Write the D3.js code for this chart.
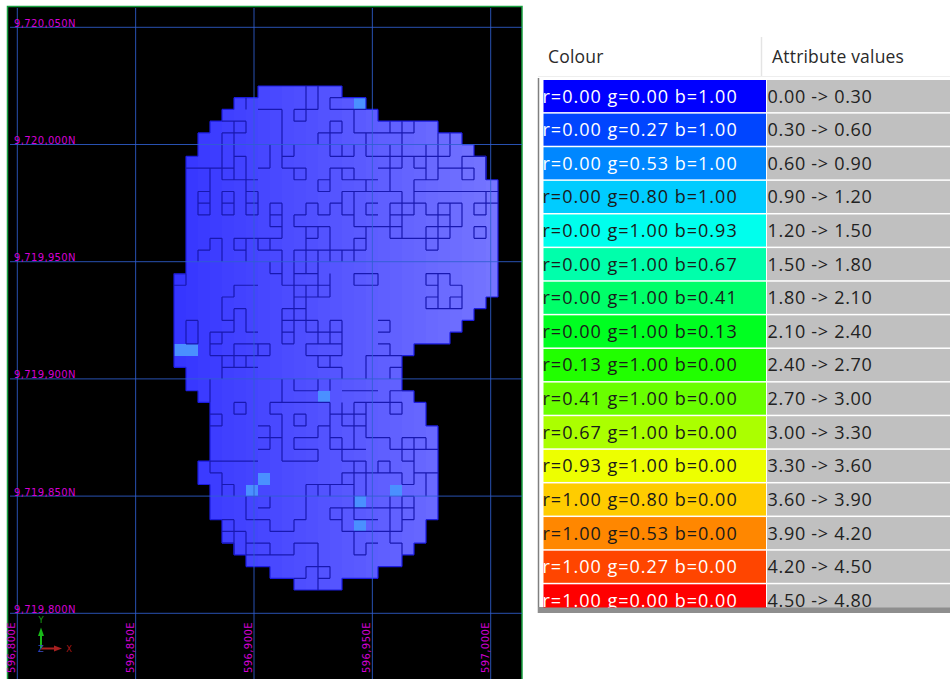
<!DOCTYPE html>
<html>
<head>
<meta charset="utf-8">
<title>Block model plan view with colour legend</title>
<script src="https://d3js.org/d3.v7.min.js"></script>
<style>
  html, body { margin: 0; padding: 0; background: #fff; overflow: hidden; }
</style>
</head>
<body>
<svg id="chart" width="950" height="679"></svg>
<script>
// grid line positions of the plan view
const eastTicks = [596800, 596850, 596900, 596950, 597000];
const northTicks = [9720050, 9720000, 9719950, 9719900, 9719850, 9719800];

// block extent per row: first column and column after the last one (rows from the north)
const rowStart = [7, 5, 4, 3, 2, 2, 1, 1, 1, 1, 1, 1, 1, 1, 1, 1, 0, 0, 0, 0, 0, 0, 0, 0, 1, 1, 2, 3, 3, 3, 3, 3, 2, 2, 3, 3, 3, 4, 4, 5, 6, 8, 10];
const rowEnd = [14, 16, 17, 22, 24, 25, 26, 26, 27, 27, 27, 27, 27, 27, 27, 27, 27, 27, 26, 25, 24, 23, 20, 19, 19, 19, 20, 21, 21, 22, 22, 22, 22, 22, 22, 22, 22, 21, 21, 20, 19, 17, 14];

// the few blocks in the 0.30 -> 0.60 class, [col, row]; every other block is 0.00 -> 0.30
const classTwoCells = [[15, 1], [0, 22], [1, 22], [12, 26], [7, 33], [6, 34], [15, 35], [15, 37], [18, 34]];

// internal block edges, [row, fromCol, toCol]
const edgeH = [
  [2,7,9],[6,9,10],[2,10,11],[3,10,11],[2,11,12],[1,13,14],[2,13,16],[3,4,6],[4,4,6],[6,5,6],[8,4,7],[7,1,5],
  [9,2,3],[10,2,3],[11,2,3],[9,4,5],[10,4,5],[11,4,5],[9,6,7],[10,6,7],[11,6,7],[7,7,8],[7,9,11],[8,10,11],
  [8,12,13],[9,12,13],[7,13,14],[3,13,14],[4,12,14],[6,13,14],[10,8,9],[11,8,9],[12,8,9],[13,8,9],
  [10,11,12],[11,10,11],[11,12,13],[10,13,14],[12,10,13],[13,11,12],[13,3,4],[14,2,3],[13,5,6],[14,5,6],[13,6,8],[14,7,9],[14,10,13],
  [4,15,20],[7,17,19],[6,16,23],[7,20,21],[8,20,22],[7,22,24],[6,24,26],[8,24,25],[7,24,25],[9,20,27],[10,25,27],[11,25,26],
  [10,18,21],[11,18,20],[12,18,19],[13,18,23],[11,21,23],[10,22,24],[12,21,24],[14,21,22],[12,25,26],[13,25,26],
  [6,14,15],[7,14,15],[8,14,17],[9,14,19],[10,13,14],[11,14,15],[10,16,17],[11,16,17],[12,15,18],[13,15,16],[14,13,16],
  [16,0,1],[17,0,1],[20,1,2],[22,1,2],[21,3,5],[22,3,4],[20,4,5],[18,4,5],[17,5,7],[19,5,6],[21,6,7],[23,3,8],[24,4,7],[22,5,8],
  [16,8,9],[17,9,13],[16,10,12],[18,10,13],[19,10,11],[19,9,10],[20,9,12],[21,9,10],[22,9,10],[21,11,12],[20,13,14],[21,12,14],[22,11,14],[23,11,14],[24,12,14],
  [26,10,12],[27,5,6],[28,5,6],[28,3,4],[29,3,4],[27,8,13],[28,8,9],[28,10,11],[29,10,11],[29,7,8],[29,12,13],
  [16,15,17],[17,15,17],[16,21,23],[17,21,22],[17,23,24],[18,21,22],[18,23,24],[19,21,24],[22,13,14],[20,17,18],[21,17,18],[22,17,18],[23,16,19],[24,18,19],
  [26,14,17],[26,18,20],[27,15,19],[28,18,19],[28,13,16],[29,14,16],
  [30,7,8],[31,7,8],[30,8,9],[32,9,12],[31,10,12],[30,10,12],[30,13,14],[31,13,14],[31,14,16],[32,14,15],[32,3,7],[33,3,4],[34,4,5],
  [33,14,19],[34,11,15],[37,10,11],[38,8,10],[37,6,8],[36,7,8],[36,13,15],[37,13,14],[38,14,15],[37,4,5],[38,4,6],[39,4,5],[39,6,8],[40,6,10],[39,10,12],[41,11,13],[42,10,11],[42,12,13],
  [30,16,18],[31,18,22],[30,19,21],[32,19,20],[33,20,22],[34,19,20],[32,17,18],[32,15,16],[36,14,20],[37,15,17],[37,19,20],[35,19,20],[38,14,19],[40,15,16],[39,16,17],[39,18,19]
];

// internal block edges, [col, fromRow, toRow]
const edgeV = [
  [6,1,2],[9,2,6],[10,5,6],[10,2,3],[11,2,3],[11,0,2],[12,0,2],[13,1,2],[6,3,4],[5,3,6],[4,4,8],[5,6,8],[6,6,9],[3,7,9],[4,7,8],
  [2,9,11],[3,9,11],[4,9,11],[5,9,11],[6,9,11],[7,9,11],[8,5,7],[9,6,7],[10,7,8],[11,7,8],[12,8,9],[13,8,9],[13,7,8],[12,4,5],[13,3,6],
  [8,10,12],[9,10,13],[8,13,14],[11,10,11],[10,11,12],[12,10,11],[13,10,11],[11,12,14],[12,12,13],[13,12,15],[3,13,14],[4,13,15],[2,14,15],[5,13,14],[6,13,15],[7,13,14],[9,14,15],[10,14,15],[11,14,15],[12,14,15],
  [14,3,4],[15,2,4],[18,3,4],[19,3,7],[20,3,4],[16,4,6],[18,5,9],[21,5,6],[22,4,7],[23,4,6],[20,6,7],[21,6,8],[22,7,8],[24,6,8],[25,7,8],[26,6,8],[20,8,9],[26,9,10],[25,10,11],[26,10,11],
  [18,10,13],[19,9,13],[20,9,11],[21,10,11],[22,10,14],[23,10,13],[24,10,12],[21,12,14],[25,12,13],[26,12,13],
  [14,5,6],[15,5,6],[14,7,8],[15,7,8],[16,8,9],[15,9,12],[14,9,11],[16,10,11],[16,12,14],[15,13,15],[14,14,15],
  [1,16,17],[1,20,22],[2,20,22],[3,21,23],[4,21,22],[5,20,21],[4,18,20],[5,17,18],[5,19,20],[6,19,21],[4,23,25],[5,23,24],[6,23,24],[5,22,23],[8,22,23],[7,22,23],
  [8,15,16],[9,15,17],[10,15,20],[11,15,16],[12,15,16],[12,16,17],[13,16,18],[11,17,19],[12,17,18],[9,19,22],[10,20,22],[11,19,21],[12,20,22],[13,20,21],[13,21,22],[11,22,23],[12,23,24],[13,23,24],
  [9,25,27],[10,25,26],[12,25,26],[13,25,26],[3,25,27],[5,27,28],[6,27,28],[4,28,29],[8,27,28],[9,28,30],[10,28,29],[11,28,29],[8,29,31],[12,29,30],[13,27,30],
  [15,16,17],[17,16,17],[21,16,17],[22,16,19],[23,16,17],[24,17,19],[21,18,19],[23,18,19],[14,20,23],[18,20,21],[18,22,23],[16,23,25],[18,24,25],[14,24,25],[18,26,28],[19,27,28],[14,27,29],[15,27,31],[16,27,30],
  [9,29,32],[12,31,32],[10,30,31],[12,29,30],[13,30,31],[14,30,32],[3,32,33],[4,33,35],[5,34,35],[14,33,34],[11,34,37],[10,37,38],[8,37,38],[6,35,37],[8,35,36],[12,34,35],[13,34,35],
  [13,36,37],[14,36,38],[15,36,37],[5,37,40],[6,38,40],[8,39,40],[10,39,40],[12,39,43],[11,41,42],[13,41,42],
  [18,30,31],[19,30,32],[20,30,33],[21,30,31],[20,33,34],[19,33,34],[18,32,33],[17,32,33],[16,32,35],[15,32,34],[21,33,35],[15,34,37],[19,35,37],[20,35,37],[18,35,38],[14,37,38],[19,36,38],[15,38,40],[16,39,40],[18,38,39],[19,39,40]
];

// legend table
const legendR = [0, 0, 0, 0, 0, 0, 0, 0, 0.13, 0.41, 0.67, 0.93, 1, 1, 1, 1];
const legendG = [0, 0.27, 0.53, 0.8, 1, 1, 1, 1, 1, 1, 1, 1, 0.8, 0.53, 0.27, 0];
const legendB = [1, 1, 1, 1, 0.93, 0.67, 0.41, 0.13, 0, 0, 0, 0, 0, 0, 0, 0];
const legendBreaks = [0, 0.3, 0.6, 0.9, 1.2, 1.5, 1.8, 2.1, 2.4, 2.7, 3.0, 3.3, 3.6, 3.9, 4.2, 4.5, 4.8];
const headers = ["Colour", "Attribute values"];

const svg = d3.select("#chart");

// ---- plan view ----
const x = d3.scaleLinear().domain([596800, 597000]).range([17.3, 490.7]);
const y = d3.scaleLinear().domain([9720050, 9719800]).range([27.3, 613.3]);
const colX = d3.scaleLinear().domain([0, 27]).range([174, 498]);
const rowY = d3.scaleLinear().domain([0, 43]).range([86, 590]);
// the viewer's light makes the same class paler towards the east
const shade = d3.scaleLinear().domain([0, 27]).range(["#3636ff", "#7777ff"]);

const view = svg.append("g");
view.append("rect")
    .attr("x", 7.5).attr("y", 6.5).attr("width", 514.5).attr("height", 680)
    .attr("fill", "black").attr("stroke", "#18a040").attr("stroke-width", 1.5);

// blocks
const cells = [];
rowStart.forEach((s, r) => {
  for (let c = s; c < rowEnd[r]; c++) cells.push({c: c, r: r});
});
const isClassTwo = d => classTwoCells.some(k => k[0] === d.c && k[1] === d.r);

view.append("g").selectAll("rect")
    .data(cells)
    .join("rect")
    .attr("x", d => colX(d.c))
    .attr("y", d => rowY(d.r))
    .attr("width", d => colX(d.c + 1) - colX(d.c))
    .attr("height", d => rowY(d.r + 1) - rowY(d.r))
    .attr("fill", d => isClassTwo(d) ? "#4a90ff" : shade(d.c))
    .attr("shape-rendering", "crispEdges");

// outline of the model, worked out from the row extents
const inside = (c, r) => r >= 0 && r < rowStart.length && c >= rowStart[r] && c < rowEnd[r];
const outline = d3.path();
cells.forEach(d => {
  if (!inside(d.c, d.r - 1)) { outline.moveTo(colX(d.c), rowY(d.r)); outline.lineTo(colX(d.c + 1), rowY(d.r)); }
  if (!inside(d.c, d.r + 1)) { outline.moveTo(colX(d.c), rowY(d.r + 1)); outline.lineTo(colX(d.c + 1), rowY(d.r + 1)); }
  if (!inside(d.c - 1, d.r)) { outline.moveTo(colX(d.c), rowY(d.r)); outline.lineTo(colX(d.c), rowY(d.r + 1)); }
  if (!inside(d.c + 1, d.r)) { outline.moveTo(colX(d.c + 1), rowY(d.r)); outline.lineTo(colX(d.c + 1), rowY(d.r + 1)); }
});
view.append("path").attr("d", outline.toString())
    .attr("fill", "none").attr("stroke", "#1c1ce0").attr("stroke-width", 1.2);

// internal edges
const inner = d3.path();
edgeH.forEach(e => { inner.moveTo(colX(e[1]), rowY(e[0])); inner.lineTo(colX(e[2]), rowY(e[0])); });
edgeV.forEach(e => { inner.moveTo(colX(e[0]), rowY(e[1])); inner.lineTo(colX(e[0]), rowY(e[2])); });
view.append("path").attr("d", inner.toString())
    .attr("fill", "none").attr("stroke", "#1818b0").attr("stroke-width", 1.2);

// grid
view.append("g").selectAll("line")
    .data(eastTicks)
    .join("line")
    .attr("x1", d => x(d)).attr("x2", d => x(d))
    .attr("y1", 8).attr("y2", 679)
    .attr("stroke", "#2f5fd0").attr("stroke-opacity", 0.85);
view.append("g").selectAll("line")
    .data(northTicks)
    .join("line")
    .attr("x1", 10).attr("x2", 522)
    .attr("y1", d => y(d)).attr("y2", d => y(d))
    .attr("stroke", "#2f5fd0").attr("stroke-opacity", 0.85);

const labelFont = "DejaVu Sans";
view.append("g").selectAll("text")
    .data(northTicks)
    .join("text")
    .attr("x", 14)
    .attr("y", d => y(d) - 0.5)
    .attr("font-family", labelFont).attr("font-size", 10).attr("letter-spacing", 0.35)
    .attr("fill", "#d400d4")
    .text(d => d3.format(",")(d) + "N");
view.append("g").selectAll("text")
    .data(eastTicks)
    .join("text")
    .attr("transform", d => `translate(${x(d) - 2},673) rotate(-90)`)
    .attr("font-family", labelFont).attr("font-size", 10).attr("letter-spacing", 0.4)
    .attr("fill", "#d400d4")
    .text(d => d3.format(",")(d) + "E");

// axis triad
const triad = view.append("g");
const arrow = (x2, y2, head, col) => {
  triad.append("line").attr("x1", 41).attr("y1", 648.5).attr("x2", x2).attr("y2", y2)
      .attr("stroke", col).attr("stroke-width", 2);
  triad.append("path").attr("d", head).attr("fill", col);
};
arrow(41, 632, "M41,627.5L38,636L44,636Z", "#18b818");
arrow(57, 648.5, "M62,648.5L54,645.5L54,651.5Z", "#a82020");
triad.append("text").attr("x", 41).attr("y", 623).attr("text-anchor", "middle")
    .attr("font-family", labelFont).attr("font-size", 8.5).attr("fill", "#18a018").text("Y");
triad.append("text").attr("x", 69).attr("y", 651.5).attr("text-anchor", "middle")
    .attr("font-family", labelFont).attr("font-size", 8.5).attr("fill", "#a81818").text("X");
triad.append("text").attr("x", 41).attr("y", 651.5).attr("text-anchor", "middle")
    .attr("font-family", labelFont).attr("font-size", 8.5).attr("fill", "#3a4ac0").text("Z");

// ---- legend table ----
const tableFont = "Open Sans";
const table = svg.append("g");
const rowBand = d3.scaleLinear().domain([0, 15]).range([80, 584.3]);
const rowH = rowBand(1) - rowBand(0);

svg.append("defs").append("clipPath").attr("id", "tableClip")
  .append("rect").attr("x", 543).attr("y", 78).attr("width", 407).attr("height", 529.5);

// header
table.selectAll(".head")
    .data(headers)
    .join("text")
    .attr("class", "head")
    .attr("x", (d, i) => i === 0 ? 548 : 772)
    .attr("y", 63)
    .attr("font-family", tableFont).attr("font-size", 17.5).attr("letter-spacing", 0.2).attr("fill", "#2a2a2a")
    .text(d => d);
table.append("line").attr("x1", 761.5).attr("x2", 761.5).attr("y1", 37).attr("y2", 76)
    .attr("stroke", "#e4e4e4").attr("stroke-width", 1.5);
table.append("line").attr("x1", 538).attr("x2", 950).attr("y1", 76.5).attr("y2", 76.5)
    .attr("stroke", "#eeeeee");
table.append("line").attr("x1", 538.5).attr("x2", 538.5).attr("y1", 78).attr("y2", 613)
    .attr("stroke", "#808080").attr("stroke-width", 1.5);
table.append("rect").attr("x", 538).attr("y", 607).attr("width", 412).attr("height", 6).attr("fill", "#8e8e8e");

const rowsG = table.append("g").attr("clip-path", "url(#tableClip)");
const rowsData = legendR.map((r, i) => ({
  r: r, g: legendG[i], b: legendB[i], lo: legendBreaks[i], hi: legendBreaks[i + 1], i: i
}));
const f2 = d3.format(".2f");
const rowColor = d => d3.rgb(d.r * 255, d.g * 255, d.b * 255).formatHex();
const textColor = d => (0.299 * d.r + 0.587 * d.g + 0.114 * d.b) > 0.5 ? "#1a1a1a" : "#ffffff";

rowsG.selectAll(".swatch")
    .data(rowsData)
    .join("rect")
    .attr("class", "swatch")
    .attr("x", 543.5).attr("width", 222.5)
    .attr("y", d => rowBand(d.i)).attr("height", rowH - 1.5)
    .attr("fill", rowColor);
rowsG.selectAll(".range")
    .data(rowsData)
    .join("rect")
    .attr("class", "range")
    .attr("x", 767).attr("width", 183)
    .attr("y", d => rowBand(d.i)).attr("height", rowH - 1.5)
    .attr("fill", "#c0c0c0");
rowsG.selectAll(".swatchText")
    .data(rowsData)
    .join("text")
    .attr("class", "swatchText")
    .attr("x", 542.5)
    .attr("y", d => rowBand(d.i) + 22.5)
    .attr("font-family", tableFont).attr("font-size", 18).attr("letter-spacing", 1)
    .attr("fill", textColor)
    .text(d => `r=${f2(d.r)} g=${f2(d.g)} b=${f2(d.b)}`);
rowsG.selectAll(".rangeText")
    .data(rowsData)
    .join("text")
    .attr("class", "rangeText")
    .attr("x", 767.5)
    .attr("y", d => rowBand(d.i) + 22.5)
    .attr("font-family", tableFont).attr("font-size", 18).attr("letter-spacing", 0.7)
    .attr("fill", "#222222")
    .text(d => `${f2(d.lo)} -> ${f2(d.hi)}`);
</script>
</body>
</html>
